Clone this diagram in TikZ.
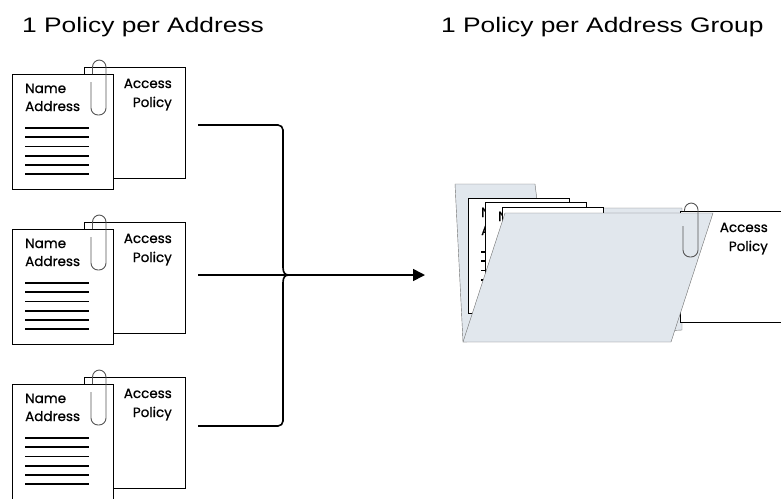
\documentclass[tikz,border=0pt]{standalone}
\usepackage{fontspec}
\setmainfont{Liberation Sans}
\newfontfamily\headfont[FakeStretch=1.255]{Liberation Sans}
\newfontfamily\sheetfont[FakeBold=0.7]{Poppins}
\usetikzlibrary{arrows.meta,positioning}

\definecolor{folderfill}{HTML}{E1E7ED}
\definecolor{folderline}{HTML}{6F6F6F}
\definecolor{clipline}{HTML}{555555}

\tikzset{
  sheet/.style={rectangle, draw, fill=white, inner sep=0pt, outer sep=0pt, anchor=north west},
  sheettext/.style={inner sep=0pt, font=\sheetfont\fontsize{13.5}{16}\selectfont},
  textline/.style={line width=1.8pt},
  paperclip/.style={draw=clipline, line width=0.9pt, rounded corners=7pt},
  % front sheet with name and address
  addrsheet/.pic={
    \node[sheet, minimum width=101pt, minimum height=115pt] (-page) at (0,0) {};
    \node[sheettext, anchor=base west] at (13,19) {Name};
    \node[sheettext, anchor=base west] at (13,37) {Address};
    \foreach \k in {0,...,5}
      \draw[textline] (13,{54+9.2*\k}) -- (77,{54+9.2*\k});
  },
  % empty sheet, lying furthest back in the folder
  blanksheet/.pic={
    \node[sheet, minimum width=101pt, minimum height=115pt] (-page) at (0,0) {};
  },
  % sheet holding the access policy
  policysheet/.pic={
    \node[sheet, minimum width=101pt, minimum height=111pt] (-page) at (0,0) {};
    \node[sheettext, anchor=base east] at (88,21) {Access};
    \node[sheettext, anchor=base east] at (88,40) {Policy};
  },
}

\begin{document}
\begin{tikzpicture}[x=1pt, y=-1pt,
heading/.style={inner sep=0pt, anchor=base west, font=\headfont\fontsize{21}{25}\selectfont},
link/.style={line width=1.6pt},
flow/.style={link, -{Triangle[length=12pt, width=12pt]}},
]
\useasboundingbox (0,0) rectangle (781,498);

% Titel
\node[heading] (single) at (22,32) {1 Policy per Address};
\node[heading] (group) at (441,32) {1 Policy per Address Group};

% drei Adressen, jede mit eigener Policy
\foreach \i/\dy in {1/0, 2/155, 3/310} {
  \begin{scope}[shift={(0,\dy)}]
    \pic (pol\i) at (84,67) {policysheet};
    \pic (adr\i) at (12,74) {addrsheet};
    \draw[paperclip] (92.5,74) -- (92.5,60) -- (106,60) -- (106,115) -- (91,115) -- (91,82);
  \end{scope}
}

% Zusammenfuehrung
\coordinate (in1) at (198,125);
\coordinate (in2) at (198,275);
\coordinate (in3) at (198,426);
\coordinate (hub) at (289,275);
\coordinate (grp) at (425,275);

\draw[link, rounded corners=5pt] (in1) -- (283,125) -- (283,268);
\draw[link] (283,267) .. controls (283,273) and (285,275) .. (hub);
\draw[link] (hub) .. controls (285,275) and (283,277) .. (283,283);
\draw[link, rounded corners=5pt] (283,282) -- (283,426) -- (in3);
\draw[link] (in2) -- (hub);
\draw[flow] (hub) -- (grp);

% Ordner mit mehreren Adressen
\draw[folderline, fill=folderfill] (455,184) -- (535,184) -- (538,208) -- (682,208)
  -- (682,330) -- (463,342) -- cycle;
\pic (pol) at (680,211) {policysheet};
\pic (fa) at (468,198) {addrsheet};
\pic (fb) at (485,202) {addrsheet};
\pic (fc) at (502,207) {blanksheet};
\draw[folderline, fill=folderfill] (505,213) -- (713,213) -- (671,342) -- (463,342) -- cycle;
\draw[paperclip] (684.5,211) -- (684.5,203) -- (698,203) -- (698,257) -- (683,257) -- (683,226);

\end{tikzpicture}
\end{document}
